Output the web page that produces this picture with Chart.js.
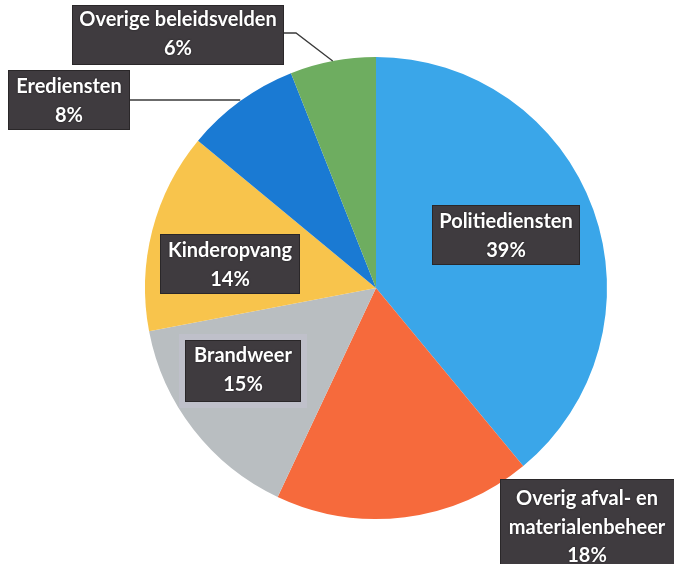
<!DOCTYPE html>
<html>
<head>
<meta charset="utf-8">
<script src="https://cdn.jsdelivr.net/npm/chart.js@4"></script>
<style>
  html, body { margin: 0; padding: 0; background: #ffffff; }
  #wrap { width: 674px; height: 564px; position: relative; }
</style>
</head>
<body>
<div id="wrap"><canvas id="c" width="674" height="564"></canvas></div>
<script>
// ---- data ----
const categories = ['Politiediensten', 'Overig afval- en materialenbeheer', 'Brandweer', 'Kinderopvang', 'Erediensten', 'Overige beleidsvelden'];
const values = [39, 18, 15, 14, 8, 6];
const labelLines = [
  ['Politiediensten'],
  ['Overig afval- en', 'materialenbeheer'],
  ['Brandweer'],
  ['Kinderopvang'],
  ['Erediensten'],
  ['Overige beleidsvelden']
];
const colors = ['#3aa6e9', '#f66a3c', '#b9bec1', '#f8c44c', '#1a7ad3', '#6ead60'];

// ---- label layout (box centre x, first line y, box bounds) ----
const labelLayout = [
  { cx: 506, y0: 222, box: [432, 205, 580, 265], leader: false },
  { cx: 587, y0: 499, box: [500, 479, 676, 566], leader: false },
  { cx: 243, y0: 356, box: [185, 340, 301, 402], leader: false, halo: true },
  { cx: 230, y0: 251, box: [160, 234, 300, 294], leader: false },
  { cx: 69,  y0: 87,  box: [8, 70, 130, 130], leader: [[130, 100], [null, 100]] },
  { cx: 178, y0: 20,  box: [72, 5, 284, 65], leader: [[284, 33], [296, 33]] }
];

const labelPlugin = {
  id: 'boxLabels',
  afterDatasetsDraw(chart) {
    const ctx = chart.ctx;
    const meta = chart.getDatasetMeta(0);
    ctx.save();
    meta.data.forEach((arc, i) => {
      const L = labelLayout[i];
      const [x1, y1, x2, y2] = L.box;
      // leader line to arc edge midpoint
      if (L.leader) {
        const mid = (arc.startAngle + arc.endAngle) / 2;
        const ex = arc.x + Math.cos(mid) * arc.outerRadius;
        const ey = arc.y + Math.sin(mid) * arc.outerRadius;
        ctx.beginPath();
        ctx.strokeStyle = '#3a3a3a';
        ctx.lineWidth = 1.3;
        ctx.moveTo(L.leader[0][0], L.leader[0][1]);
        if (L.leader[1][0] !== null) {
          ctx.lineTo(L.leader[1][0], L.leader[1][1]);
          ctx.lineTo(ex, ey);
        } else {
          ctx.lineTo(ex, L.leader[1][1]);
        }
        ctx.stroke();
      }
      if (L.halo) {
        ctx.fillStyle = 'rgba(200,196,212,0.45)';
        ctx.fillRect(x1 - 6, y1 - 6, (x2 - x1) + 12, (y2 - y1) + 12);
      }
      ctx.fillStyle = '#3f3b3f';
      ctx.fillRect(x1, y1, x2 - x1, y2 - y1);
      ctx.strokeStyle = '#2a2729';
      ctx.lineWidth = 1;
      ctx.strokeRect(x1 + 0.5, y1 + 0.5, x2 - x1 - 1, y2 - y1 - 1);

      ctx.fillStyle = '#ffffff';
      ctx.font = 'bold 20px Lato, "Open Sans", sans-serif';
      ctx.textAlign = 'center';
      ctx.textBaseline = 'middle';
      ctx.shadowColor = 'rgba(0,0,0,0.6)';
      ctx.shadowBlur = 2;
      const lines = labelLines[i].concat([values[i] + '%']);
      lines.forEach((t, k) => {
        ctx.fillText(t, L.cx, L.y0 + k * 28.5);
      });
      ctx.shadowBlur = 0;
      ctx.shadowColor = 'transparent';
    });
    ctx.restore();
  }
};

new Chart(document.getElementById('c'), {
  type: 'pie',
  data: {
    labels: categories,
    datasets: [{
      data: values,
      backgroundColor: colors,
      borderWidth: 0
    }]
  },
  options: {
    responsive: false,
    animation: false,
    layout: { padding: { left: 145, right: 67, top: 56, bottom: 44 } },
    plugins: {
      legend: { display: false },
      tooltip: { enabled: false }
    }
  },
  plugins: [labelPlugin]
});
</script>
</body>
</html>
